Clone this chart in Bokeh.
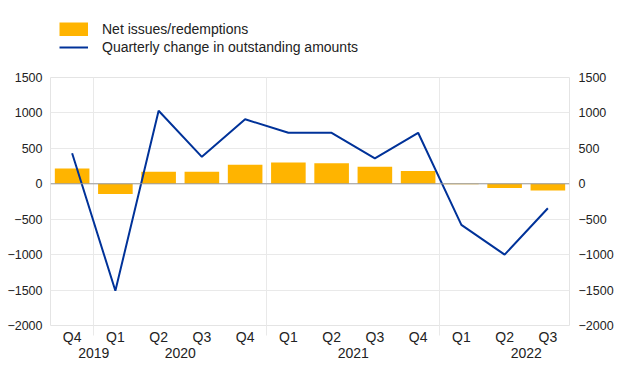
from bokeh.plotting import figure
from bokeh.layouts import column
from bokeh.models import (FixedTicker, LinearAxis, Legend, LegendItem, Span)
from bokeh.embed import file_html
from bokeh.resources import INLINE

# ---- data ----
quarters = ["Q4", "Q1", "Q2", "Q3", "Q4", "Q1", "Q2", "Q3", "Q4", "Q1", "Q2", "Q3"]
net_issues = [215, -145, 170, 170, 270, 300, 290, 240, 180, -5, -60, -95]
quarterly_change = [430, -1510, 1030, 380, 910, 720, 720, 360, 720, -580, -1000, -345]
years = ["2019", "2020", "2021", "2022"]
year_label_pos = [1, 3, 7, 11]
year_separators = [1, 5, 9]
y_ticks = [-2000, -1500, -1000, -500, 0, 500, 1000, 1500]
series_names = ["Net issues/redemptions", "Quarterly change in outstanding amounts"]

centers = [i + 0.5 for i in range(len(quarters))]

BAR = "#FFB400"
LINE = "#003299"
GRID = "#e9e9e9"
FONT = "Liberation Sans"
TXT = "#222222"
LEFT = 50

p = figure(frame_width=519, frame_height=248, x_range=(0, len(quarters)), y_range=(-2000, 1500),
           output_backend="svg", toolbar_location=None,
           min_border_left=LEFT, min_border_right=10, min_border_top=13, min_border_bottom=10)
p.outline_line_color = "#e4e4e4"

# grids
p.ygrid.ticker = FixedTicker(ticks=y_ticks)
p.ygrid.grid_line_color = GRID
p.xgrid.ticker = FixedTicker(ticks=year_separators)
p.xgrid.grid_line_color = GRID

# left y axis
ax = p.yaxis[0]
ax.ticker = FixedTicker(ticks=y_ticks)
ax.axis_line_color = None
ax.major_tick_line_color = None
ax.minor_tick_line_color = None
ax.major_tick_out = 0
ax.minor_tick_out = 0
ax.major_label_standoff = 8
ax.major_label_text_font = FONT
ax.major_label_text_font_size = "12.5px"
ax.major_label_text_color = TXT

right_axis = LinearAxis(ticker=FixedTicker(ticks=y_ticks), axis_line_color=None,
                        major_tick_line_color=None, minor_tick_line_color=None,
                        major_tick_out=0, minor_tick_out=0,
                        major_label_standoff=9, major_label_text_font=FONT,
                        major_label_text_font_size="12.5px", major_label_text_color=TXT)
p.add_layout(right_axis, "right")

# quarter axis
xa = p.xaxis[0]
xa.ticker = FixedTicker(ticks=centers, minor_ticks=year_separators)
xa.major_label_overrides = {c: q for c, q in zip(centers, quarters)}
xa.axis_line_color = None
xa.major_tick_line_color = None
xa.major_tick_out = 0
xa.minor_tick_line_color = GRID
xa.minor_tick_in = 0
xa.minor_tick_out = 10
xa.major_label_standoff = -7
xa.major_label_text_font = FONT
xa.major_label_text_font_size = "14px"
xa.major_label_text_color = TXT

# year axis
year_axis = LinearAxis(ticker=FixedTicker(ticks=year_label_pos),
                       major_label_overrides={pos: y for pos, y in zip(year_label_pos, years)},
                       axis_line_color=None, major_tick_line_color=None,
                       minor_tick_line_color=None, major_tick_out=0, minor_tick_out=0,
                       major_label_standoff=0,
                       major_label_text_font=FONT, major_label_text_font_size="14px",
                       major_label_text_color=TXT)
p.add_layout(year_axis, "below")

p.vbar(x=centers, top=net_issues, width=0.8, color=BAR, line_color=None)
p.add_layout(Span(location=0, dimension="width", line_color="#9a9a9a", line_width=1))
p.line(x=centers, y=quarterly_change, line_color=LINE, line_width=2)

# legend figure: hidden copies of the series supply the legend glyphs
lf = figure(width=p.frame_width + LEFT, height=64, x_range=(0, len(quarters)), y_range=(-2000, 1500),
            output_backend="svg", toolbar_location=None,
            min_border_left=LEFT, min_border_right=0, min_border_top=18, min_border_bottom=0)
lf.axis.visible = False
lf.grid.visible = False
lf.outline_line_color = None
# bar series shown as a thick butt-capped stroke -> full 29x14 swatch
lb = lf.line(x=centers, y=net_issues, line_color=BAR, line_width=14, line_cap="butt")
ll = lf.line(x=centers, y=quarterly_change, line_color=LINE, line_width=2)
lb.visible = False
ll.visible = False
legend = Legend(items=[LegendItem(label=series_names[0], renderers=[lb]),
                       LegendItem(label=series_names[1], renderers=[ll])],
                location=(9, 8), orientation="vertical",
                padding=0, margin=0, spacing=0,
                glyph_width=29, glyph_height=14, label_standoff=14, label_height=18,
                label_text_font=FONT, label_text_font_size="14px", label_text_color=TXT,
                inactive_fill_alpha=0,
                border_line_color=None, background_fill_alpha=0)
lf.add_layout(legend, "center")

open("out.html", "w").write(file_html(column(lf, p), INLINE))
